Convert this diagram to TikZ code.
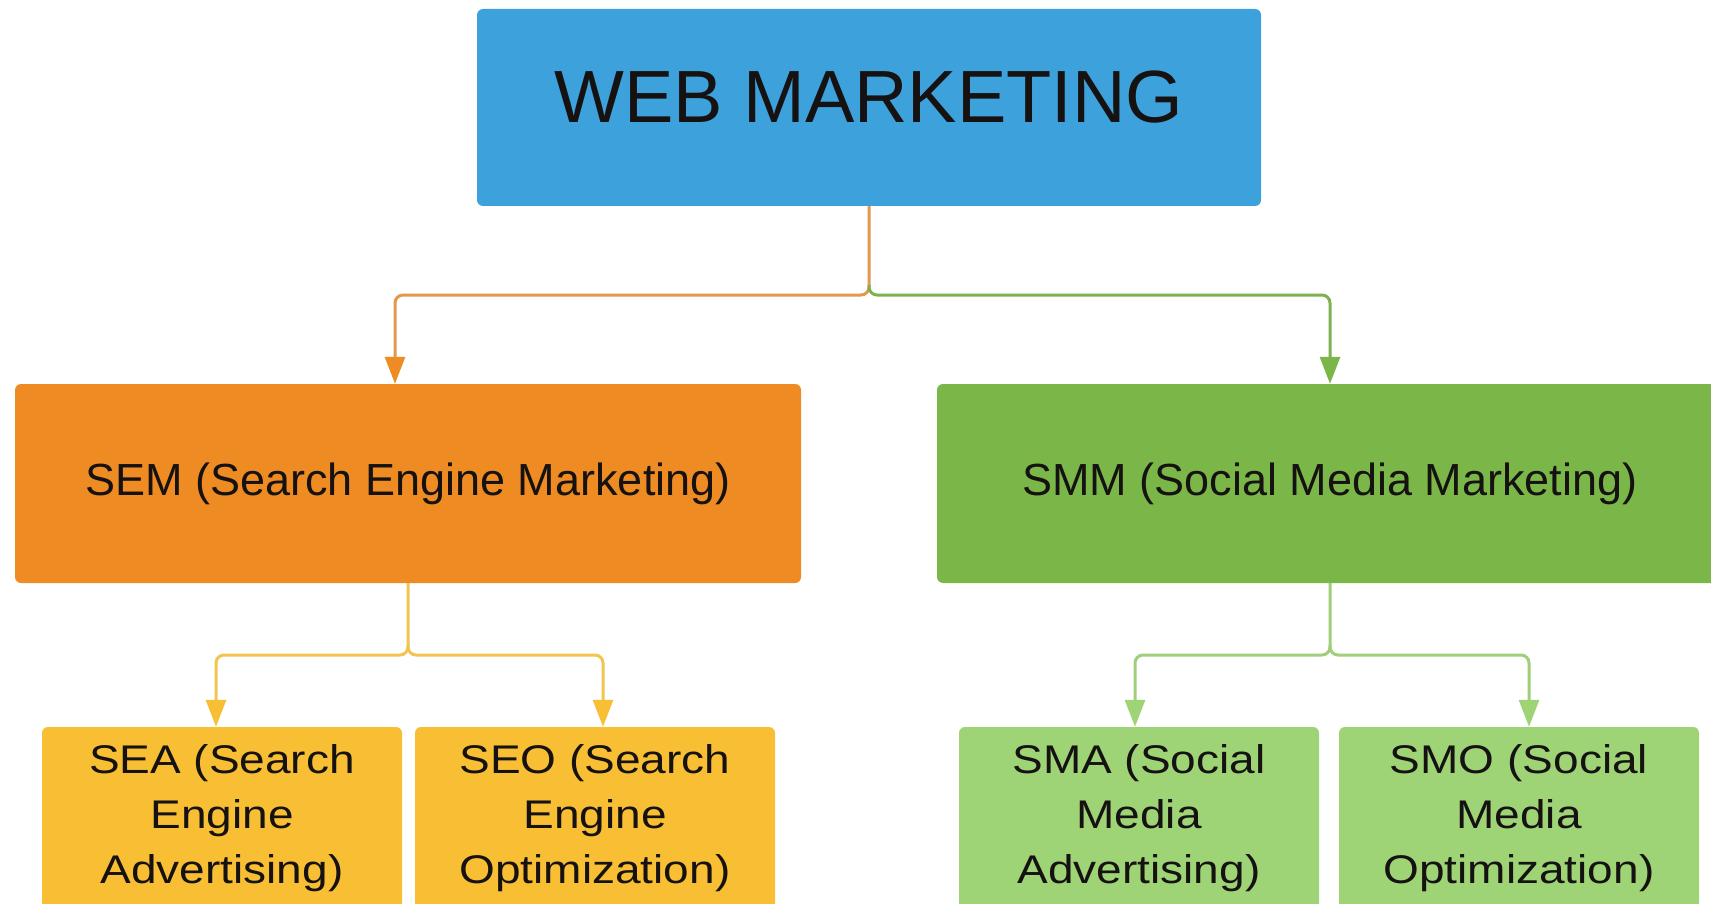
\documentclass[tikz,border=0pt]{standalone}
\usepackage{fontspec}
\setmainfont{Liberation Sans}
\newfontfamily\widesans[FakeStretch=1.15]{Liberation Sans}
\usetikzlibrary{arrows.meta}
\definecolor{topblue}{RGB}{61,162,220}
\definecolor{semorange}{RGB}{238,139,35}
\definecolor{smmgreen}{RGB}{122,182,72}
\definecolor{subyellow}{RGB}{248,191,52}
\definecolor{sublgreen}{RGB}{158,212,118}
\definecolor{txt}{RGB}{22,18,18}
\definecolor{lnorange}{RGB}{228,152,78}
\definecolor{lngreen}{RGB}{125,178,80}
\definecolor{lnyellow}{RGB}{242,196,80}
\definecolor{lnlgreen}{RGB}{160,206,122}
\begin{document}
\begin{tikzpicture}[x=1pt,y=-1pt,
  box/.style={rectangle, rounded corners=6pt, inner sep=0pt, text=txt, align=center},
  topbox/.style={box, fill=topblue, minimum width=784pt, minimum height=197pt,
    font=\fontsize{74}{80}\selectfont, text depth=21pt},
  midbox/.style={box, minimum width=786pt, minimum height=199pt,
    font=\fontsize{45}{54}\selectfont},
  subbox/.style={box, minimum width=360pt, minimum height=182pt,
    font=\widesans\fontsize{40}{55}\selectfont},
  link/.style={line width=3pt, rounded corners=8pt},
  orangelink/.style={link, draw=lnorange, -{Triangle[width=20pt,length=27pt,color=semorange]}},
  greenlink/.style={link, draw=lngreen, -{Triangle[width=20pt,length=27pt,color=smmgreen]}},
  yellowlink/.style={link, draw=lnyellow, -{Triangle[width=20pt,length=27pt,color=subyellow]}},
  lgreenlink/.style={link, draw=lnlgreen, -{Triangle[width=20pt,length=27pt,color=sublgreen]}}
]
\useasboundingbox (0,0) rectangle (1711,904);
\clip (0,0) rectangle (1711,904);
\fill[white] (0,0) rectangle (1711,904);

\node[topbox] (web) at (869,107.5) {WEB MARKETING};
\node[midbox, fill=semorange] (sem) at (408,483.5) {SEM (Search Engine Marketing)};
\node[midbox, fill=smmgreen] (smm) at (1330,483.5) {SMM (Social Media Marketing)};
\node[subbox, fill=subyellow] (sea) at (222,818) {SEA (Search\\Engine\\Advertising)};
\node[subbox, fill=subyellow] (seo) at (595,818) {SEO (Search\\Engine\\Optimization)};
\node[subbox, fill=sublgreen] (sma) at (1139,818) {SMA (Social\\Media\\Advertising)};
\node[subbox, fill=sublgreen] (smo) at (1519,818) {SMO (Social\\Media\\Optimization)};

\coordinate (j1) at (869,295);
\coordinate (j2) at (408,655);
\coordinate (j3) at (1330,655);

\draw[orangelink] (web.south) -- (j1) -| ([xshift=-13pt]sem.north);
\draw[greenlink] ([yshift=10pt]j1) -- (j1) -| (smm.north);

\draw[yellowlink] (sem.south) -- (j2) -| ([xshift=-6pt]sea.north);
\draw[yellowlink] ([yshift=10pt]j2) -- (j2) -| ([xshift=8pt]seo.north);

\draw[lgreenlink] (smm.south) -- (j3) -| ([xshift=-4pt]sma.north);
\draw[lgreenlink] ([yshift=10pt]j3) -- (j3) -| ([xshift=10pt]smo.north);
\end{tikzpicture}
\end{document}
